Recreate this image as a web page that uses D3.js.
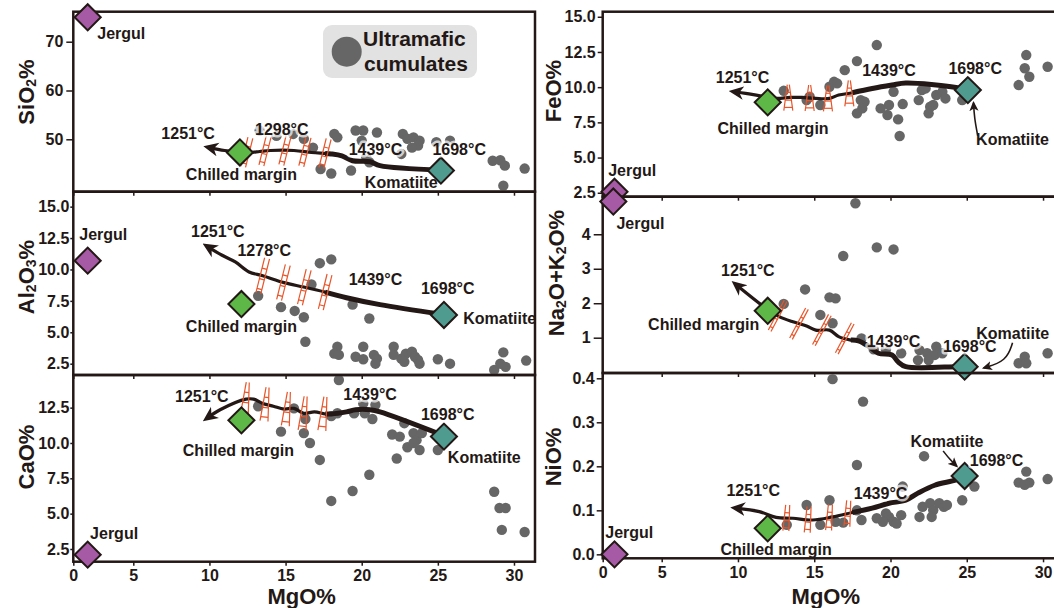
<!DOCTYPE html>
<html>
<head>
<meta charset="utf-8">
<script src="https://cdn.jsdelivr.net/npm/d3@7"></script>
<style>
  body { margin: 0; background: #fff; }
  text { font-family: "Liberation Sans", Arial, Helvetica, sans-serif; font-weight: bold; fill: #231815; }
</style>
</head>
<body>
<svg id="chart" width="1054" height="608"></svg>
<script>
// MgO ticks shared by all panels
const mgoTicks = [0, 5, 10, 15, 20, 25, 30];

// ultramafic cumulates: [MgO, oxide]
const sio2Dots = [[18.2,51.1],[18.4,50.4],[17.3,43.9],[18.0,43.0],[19.3,43.6],[19.6,51.8],[20.1,51.8],[21.0,51.4],[20.0,49.7],[20.3,46.3],[20.5,45.3],[22.7,51.1],[23.0,50.1],[23.4,50.4],[23.8,49.7],[23.7,48.7],[23.3,48.3],[22.6,47.0],[24.9,49.4],[25.8,49.7],[28.6,45.6],[29.1,45.7],[29.4,44.6],[29.3,40.5],[30.7,44.0],[13.3,51.8],[15.5,51.1],[16.2,50.1],[16.8,48.3],[14.4,50.7]];
const al2o3Dots = [[13.2,7.9],[14.7,7.0],[15.6,6.7],[16.2,6.2],[16.3,4.25],[17.25,10.5],[18.0,10.8],[16.7,8.8],[19.4,7.2],[20.5,6.1],[18.4,3.85],[18.2,3.3],[18.5,3.2],[19.6,3.05],[20.1,3.85],[20.1,2.85],[20.8,3.2],[21.0,2.9],[20.9,2.5],[22.1,3.85],[22.1,3.2],[22.6,2.9],[22.9,3.3],[23.3,3.45],[23.5,3.05],[23.7,2.8],[23.8,2.5],[22.8,2.65],[25.0,2.85],[25.8,2.5],[28.7,2.0],[29.3,3.4],[29.1,2.5],[29.45,2.25],[30.8,2.75],[18.5,1.2]];
const caoDots = [[13.2,12.6],[15.55,12.45],[14.7,10.8],[16.2,10.7],[16.6,10.0],[16.3,11.7],[17.25,8.8],[18.0,5.9],[18.0,11.9],[18.4,12.1],[19.4,6.6],[20.5,7.75],[20.1,12.8],[20.2,12.1],[20.7,11.7],[20.9,12.7],[19.5,12.1],[22.0,10.6],[22.5,10.45],[22.8,11.4],[22.3,8.9],[23.0,9.7],[23.4,10.7],[23.6,10.2],[23.95,10.7],[23.8,9.5],[23.4,10.0],[25.0,9.5],[28.7,6.55],[29.05,5.4],[29.45,5.4],[29.2,3.85],[30.7,3.7]];
const feoDots = [[13.0,9.74],[14.7,9.32],[14.5,9.08],[15.4,8.73],[16.0,10.03],[16.3,10.38],[16.5,10.27],[17.0,11.21],[17.8,11.85],[19.1,12.99],[18.05,9.08],[18.3,8.96],[17.8,8.14],[18.15,8.49],[19.35,8.49],[19.9,8.73],[19.8,8.02],[20.2,9.67],[20.8,8.8],[20.5,7.71],[20.6,6.53],[21.85,9.08],[22.05,9.79],[22.3,9.91],[22.6,8.61],[22.5,8.14],[22.8,8.73],[23.0,9.44],[23.4,9.67],[23.6,9.2],[24.7,9.08],[28.4,10.15],[28.8,11.34],[29.1,10.74],[28.9,12.28],[30.3,11.45]];
const na2oDots = [[17.7,4.9],[19.1,3.62],[20.2,3.56],[16.9,3.37],[14.4,2.40],[16.0,2.17],[16.4,2.14],[13.0,1.98],[15.4,1.66],[16.2,1.42],[18.1,0.98],[18.9,0.66],[20.7,0.55],[19.7,0.66],[21.9,0.64],[22.4,0.55],[23.0,0.74],[22.9,0.5],[22.5,0.35],[21.8,0.35],[23.4,0.55],[28.4,0.26],[28.8,0.45],[28.9,0.26],[30.3,0.55]];
const nioDots = [[16.2,0.398],[18.2,0.347],[17.8,0.203],[22.2,0.223],[16.0,0.123],[14.5,0.112],[13.2,0.067],[15.4,0.067],[16.4,0.074],[16.9,0.072],[17.8,0.10],[18.1,0.078],[19.1,0.082],[19.7,0.093],[19.9,0.085],[20.2,0.074],[20.7,0.089],[20.4,0.07],[19.5,0.074],[20.8,0.154],[21.9,0.085],[22.1,0.108],[22.6,0.116],[22.8,0.10],[23.2,0.116],[23.5,0.108],[23.7,0.112],[22.7,0.085],[24.7,0.123],[25.5,0.154],[28.4,0.163],[28.9,0.188],[29.1,0.163],[28.8,0.158],[30.3,0.171]];

// liquid line of descent, komatiite -> chilled margin
const sio2Path = [[25.2,43.7],[21.2,44.6],[20.55,45.4],[19.4,45.6],[18.7,46.6],[18.0,47.0],[17.6,47.1],[16.7,47.3],[15.55,47.7],[14.0,47.7],[13.3,47.5],[12.6,47.3],[11.0,47.7],[10.0,48.3]];
const al2o3Path = [[25.2,6.45],[21.2,7.2],[19.0,7.75],[17.6,8.2],[16.2,8.6],[14.9,8.95],[13.5,9.5],[12.6,9.8],[11.7,10.6],[10.8,11.15],[9.9,11.8]];
const caoPath = [[25.2,10.6],[21.2,12.2],[20.55,12.35],[19.6,12.35],[19.0,12.2],[18.0,12.05],[17.6,12.05],[16.9,12.2],[16.2,12.1],[15.55,12.45],[14.9,12.4],[14.2,12.6],[13.5,12.8],[12.9,13.1],[12.4,13.1],[10.7,12.35],[9.9,11.8]];
const feoPath = [[25.0,9.8],[24.3,9.98],[21.0,10.3],[20.1,10.15],[18.8,9.9],[17.5,9.6],[16.6,9.44],[16.0,9.2],[15.1,9.2],[14.2,9.27],[13.4,9.27],[12.5,9.2],[11.2,9.44],[10.5,9.56],[9.8,9.67]];
const na2oPath = [[24.9,0.16],[24.35,0.16],[21.0,0.16],[20.5,0.3],[20.1,0.5],[19.2,0.55],[18.6,0.74],[17.9,0.91],[17.4,0.93],[16.6,1.03],[16.0,1.22],[15.1,1.22],[14.5,1.34],[13.6,1.46],[12.7,1.61],[12.0,1.8],[9.9,2.53]];
const nioPath = [[24.86,0.178],[24.3,0.169],[22.9,0.157],[21.8,0.139],[21.0,0.123],[19.9,0.116],[18.8,0.105],[17.5,0.095],[16.2,0.085],[14.9,0.078],[13.6,0.082],[12.5,0.084],[11.4,0.097],[9.9,0.105]];

// MgO of the orange crystallisation marks
const sio2Ladders = [12.45, 13.65, 14.96, 16.27, 17.59];
const al2o3Ladders = [13.5, 14.86, 16.23, 17.6];
const caoLadders = [12.4, 13.7, 15.1, 16.2, 17.5];
const feoLadders = [13.3, 14.7, 15.9, 17.3];
const na2oLadders = [12.6, 14.0, 15.5, 17.0];
const nioLadders = [13.2, 14.6, 16.0, 17.2];

// end members, one per panel (SiO2, Al2O3, CaO, FeO, Na2O+K2O, NiO)
const jergul = [[1.2,75.0],[1.2,10.7],[1.2,2.1],[1.0,2.57],[0.9,4.95],[1.0,0.0]];
const chilled = [[12.0,47.3],[12.1,7.25],[12.1,11.6],[11.95,8.92],[11.95,1.78],[11.95,0.059]];
const komatiite = [[25.2,43.6],[25.4,6.38],[25.4,10.45],[25.07,9.79],[24.86,0.16],[24.86,0.178]];

// labels: [text, MgO, value, kind, anchor]
const sio2Labels = [["Jergul",4.0,71.6,"n"],["1251°C",8.6,51.1,"t"],["1298°C",14.75,52.1,"t"],["1439°C",20.9,48.0,"t"],["1698°C",26.4,48.0,"t"],["Chilled margin",12.1,42.7,"n"],["Komatiite",22.6,41.2,"n"]];
const al2o3Labels = [["Jergul",2.5,12.75,"n"],["1251°C",10.55,13.0,"t"],["1278°C",13.6,11.5,"t"],["1439°C",20.9,9.2,"t"],["1698°C",25.65,8.5,"t"],["Chilled margin",12.1,5.5,"n"],["Komatiite",29.06,6.1,"n"]];
const caoLabels = [["1251°C",9.5,13.3,"t"],["1439°C",20.55,13.4,"t"],["1698°C",25.65,12.0,"t"],["Chilled margin",11.9,9.45,"n"],["Komatiite",28.05,9.0,"n"],["Jergul",3.4,3.6,"n"]];
const feoLabels = [["1251°C",10.3,10.7,"t"],["1439°C",19.9,11.15,"t"],["1698°C",25.55,11.35,"t"],["Chilled margin",12.3,7.05,"n"],["Komatiite",28.0,6.25,"n"],["Jergul",2.5,4.1,"n"]];
const na2oLabels = [["Jergul",3.2,4.32,"n"],["1251°C",10.65,2.94,"t"],["Chilled margin",7.75,1.37,"n"],["1439°C",20.2,0.88,"t"],["1698°C",25.2,0.74,"t"],["Komatiite",30.4,1.13,"n","end"]];
const nioLabels = [["1251°C",11.0,0.146,"t"],["1439°C",19.35,0.139,"t"],["1698°C",26.95,0.214,"t"],["Komatiite",23.7,0.256,"n"],["Chilled margin",12.5,0.01,"n"],["Jergul",2.25,0.049,"n"]];

// small pointer arrows from "Komatiite" to its diamond
const feoPointer = [[25.72,6.55],[25.5,7.8],[25.44,8.9]];
const na2oPointer = [[28.0,0.85],[27.6,0.32],[26.1,0.12]];
const nioPointer = [[23.45,0.235],[23.9,0.215],[24.35,0.2]];

const ink = "#231815", dotColor = "#666666", orange = "#e8552a";
const fills = { jergul: "#a65aa6", chilled: "#5db848", komatiite: "#4f9b90" };
const thickFrom = 17.4; // the komatiite end of each line is drawn heavier

const svg = d3.select("#chart");
const defs = svg.append("defs");
defs.append("marker").attr("id", "lldArrow")
  .attr("viewBox", "0 0 12 12").attr("refX", 7).attr("refY", 6)
  .attr("markerWidth", 15).attr("markerHeight", 15)
  .attr("markerUnits", "userSpaceOnUse").attr("orient", "auto")
  .append("path").attr("d", "M0,0.5 L12,6 L0,11.5 L3.5,6 Z").attr("fill", ink);
defs.append("marker").attr("id", "ptrArrow")
  .attr("viewBox", "0 0 12 12").attr("refX", 10).attr("refY", 6)
  .attr("markerWidth", 10).attr("markerHeight", 10)
  .attr("markerUnits", "userSpaceOnUse").attr("orient", "auto")
  .append("path").attr("d", "M0,0.5 L12,6 L0,11.5 L3,6 Z").attr("fill", ink);

// the two columns of panels; the first 5 MgO units are squeezed as in the original
const columns = [
  d3.scaleLinear().domain([0, 5, 31.38]).range([73.3, 133.3, 535]),
  d3.scaleLinear().domain([0, 5, 31.4]).range([602.7, 661.7, 1064.4])
];

const panels = [
  { col: 0, top: 11.7, bottom: 191.7, domain: [39.26, 76.15], ticks: [50, 60, 70], fmt: "d", ts: 7, pad: 3,
    dots: sio2Dots, lld: sio2Path, ladders: sio2Ladders, lad: { h: 30, tilt: 14, a: 5, b: 5 }, labels: sio2Labels,
    title: [["SiO", 0], ["2", 1], ["%", 0]], tpos: [26, 92] },
  { col: 0, top: 191.7, bottom: 375, domain: [1.6, 16.19], ticks: [2.5, 5, 7.5, 10, 12.5, 15], fmt: ".1f", ts: 3, pad: 1,
    dots: al2o3Dots, lld: al2o3Path, ladders: al2o3Ladders, lad: { h: 36, tilt: 14, a: 5, b: 5 }, labels: al2o3Labels,
    title: [["Al", 0], ["2", 1], ["O", 0], ["3", 1], ["%", 0]], tpos: [26, 277] },
  { col: 0, top: 375, bottom: 561.7, domain: [1.6, 14.81], ticks: [2.5, 5, 7.5, 10, 12.5], fmt: ".1f", ts: 3, pad: 1,
    dots: caoDots, lld: caoPath, ladders: caoLadders, lad: { h: 34, tilt: 6, a: 3, b: 8 }, labels: caoLabels,
    title: [["CaO%", 0]], tpos: [26, 457], xLabels: true },
  { col: 1, top: 11.7, bottom: 196.7, domain: [2.22, 15.36], ticks: [2.5, 5, 7.5, 10, 12.5, 15], fmt: ".1f", ts: 5, pad: 2,
    dots: feoDots, lld: feoPath, ladders: feoLadders, lad: { h: 26, tilt: 0, a: 2, b: 9 }, labels: feoLabels,
    title: [["FeO%", 0]], tpos: [553, 91], pointer: feoPointer },
  { col: 1, top: 196.7, bottom: 373, domain: [-0.024, 5.09], ticks: [1, 2, 3, 4], fmt: "d", ts: 9, pad: 3,
    dots: na2oDots, lld: na2oPath, ladders: na2oLadders, lad: { h: 34, tilt: 28, a: 3, b: 3 }, labels: na2oLabels,
    title: [["Na", 0], ["2", 1], ["O+K", 0], ["2", 1], ["O%", 0]], tpos: [556, 273], pointer: na2oPointer },
  { col: 1, top: 373, bottom: 558.3, domain: [-0.009, 0.412], ticks: [0, 0.1, 0.2, 0.3, 0.4], fmt: ".1f", ts: 6, pad: 2,
    dots: nioDots, lld: nioPath, ladders: nioLadders, lad: { h: 26, tilt: 4, a: 4, b: 6 }, labels: nioLabels,
    title: [["NiO%", 0]], tpos: [553, 457], pointer: nioPointer, xLabels: true }
];

function drawLadder(g, s) {
  const h = s.h;
  const half = f => (s.a + (s.b - s.a) * (f + 0.5)) / 2;
  g.attr("stroke", orange).attr("stroke-width", 1.2).attr("fill", "none");
  g.append("line").attr("x1", -s.b / 2).attr("y1", h / 2).attr("x2", -s.a / 2).attr("y2", -h / 2);
  g.append("line").attr("x1", s.b / 2).attr("y1", h / 2).attr("x2", s.a / 2).attr("y2", -h / 2);
  [-0.2, 0.1, 0.38].forEach(f => {
    g.append("line").attr("x1", -half(f)).attr("x2", half(f)).attr("y1", f * h).attr("y2", f * h);
  });
}

panels.forEach((p, i) => {
  const x = columns[p.col];
  const y = d3.scaleLinear().domain(p.domain).range([p.bottom, p.top]);
  const [x0, x1] = [x.range()[0], x.range()[2]];
  const g = svg.append("g");

  // frame
  g.append("rect").attr("x", x0).attr("y", p.top).attr("width", x1 - x0).attr("height", p.bottom - p.top)
    .attr("fill", "none").attr("stroke", ink).attr("stroke-width", 2.5);

  // x axis ticks (labels only on the bottom row)
  const xa = g.append("g").attr("transform", `translate(0,${p.bottom})`)
    .call(d3.axisBottom(x).tickValues(mgoTicks).tickSize(4).tickPadding(4)
      .tickFormat(p.xLabels ? d3.format("d") : ""));
  xa.select(".domain").remove();
  xa.selectAll("line").attr("stroke", ink).attr("stroke-width", 1.5);
  xa.selectAll("text").attr("font-size", 16).attr("fill", ink).attr("font-family", null);

  // y axis
  const ya = g.append("g").attr("transform", `translate(${x0},0)`)
    .call(d3.axisLeft(y).tickValues(p.ticks).tickFormat(d3.format(p.fmt)).tickSize(p.ts).tickPadding(p.pad));
  ya.select(".domain").remove();
  ya.selectAll("line").attr("stroke", ink).attr("stroke-width", 1.5);
  ya.selectAll("text").attr("font-size", 16).attr("fill", ink).attr("font-family", null);

  // y title
  const t = g.append("text").attr("transform", `translate(${p.tpos[0]},${p.tpos[1]}) rotate(-90)`)
    .attr("text-anchor", "middle").attr("dominant-baseline", "central").attr("font-size", 22);
  let shifted = false;
  p.title.forEach(([s, sub]) => {
    const ts = t.append("tspan").text(s).attr("font-size", sub ? 14 : 22);
    if (sub && !shifted) { ts.attr("dy", 5); shifted = true; }
    else if (!sub && shifted) { ts.attr("dy", -5); shifted = false; }
  });

  // cumulates
  g.append("g").selectAll("circle").data(p.dots).join("circle")
    .attr("cx", d => x(d[0])).attr("cy", d => y(d[1])).attr("r", 5.2).attr("fill", dotColor);

  // liquid line of descent: thinner wavy part plus heavier komatiite end
  const line = d3.line().x(d => x(d[0])).y(d => y(d[1])).curve(d3.curveCatmullRom.alpha(0.5));
  g.append("path").datum(p.lld).attr("d", line)
    .attr("fill", "none").attr("stroke", ink).attr("stroke-width", 3.2).attr("stroke-linejoin", "round")
    .attr("marker-end", "url(#lldArrow)");
  g.append("path").datum(p.lld.filter(d => d[0] >= thickFrom)).attr("d", line)
    .attr("fill", "none").attr("stroke", ink).attr("stroke-width", 5).attr("stroke-linejoin", "round");

  // crystallisation marks sitting on the line
  const sorted = p.lld.slice().sort((a, b) => a[0] - b[0]);
  const along = d3.scaleLinear().domain(sorted.map(d => d[0])).range(sorted.map(d => d[1]));
  g.append("g").selectAll("g").data(p.ladders).join("g")
    .attr("transform", m => `translate(${x(m)},${y(along(m))}) rotate(${p.lad.tilt})`)
    .each(function () { drawLadder(d3.select(this), p.lad); });

  // pointer arrow
  if (p.pointer) {
    g.append("path").datum(p.pointer)
      .attr("d", d3.line().x(d => x(d[0])).y(d => y(d[1])).curve(d3.curveBasis))
      .attr("fill", "none").attr("stroke", ink).attr("stroke-width", 1.6)
      .attr("marker-end", "url(#ptrArrow)");
  }

  // end members
  const diamonds = [[jergul[i], fills.jergul], [chilled[i], fills.chilled], [komatiite[i], fills.komatiite]];
  g.append("g").selectAll("path").data(diamonds).join("path")
    .attr("d", d3.symbol().type(d3.symbolSquare).size(340))
    .attr("transform", d => `translate(${x(d[0][0])},${y(d[0][1])}) rotate(45)`)
    .attr("fill", d => d[1]).attr("stroke", ink).attr("stroke-width", 2);

  // annotations
  g.append("g").selectAll("text").data(p.labels).join("text")
    .attr("x", d => x(d[1])).attr("y", d => y(d[2]))
    .attr("text-anchor", d => d[4] || "middle").attr("dominant-baseline", "central")
    .attr("font-size", 16)
    .attr("stroke", d => d[3] === "t" ? "#fff" : "none")
    .attr("stroke-opacity", 0.7).attr("stroke-width", 5).attr("stroke-linejoin", "round")
    .attr("paint-order", "stroke")
    .text(d => d[0]);
});

// x titles
[[301.7, 596], [825.8, 596]].forEach(([cx, cy]) => {
  svg.append("text").attr("x", cx).attr("y", cy).attr("text-anchor", "middle")
    .attr("dominant-baseline", "central").attr("font-size", 22).text("MgO%");
});

// legend
const lg = svg.append("g");
lg.append("rect").attr("x", 323).attr("y", 25).attr("width", 154).attr("height", 53).attr("rx", 9)
  .attr("fill", "#e2e2e2");
lg.append("circle").attr("cx", 346.7).attr("cy", 51.7).attr("r", 15).attr("fill", dotColor);
lg.append("text").attr("x", 363).attr("y", 46).attr("font-size", 21).text("Ultramafic");
lg.append("text").attr("x", 364).attr("y", 71).attr("font-size", 21).text("cumulates");
</script>
</body>
</html>
